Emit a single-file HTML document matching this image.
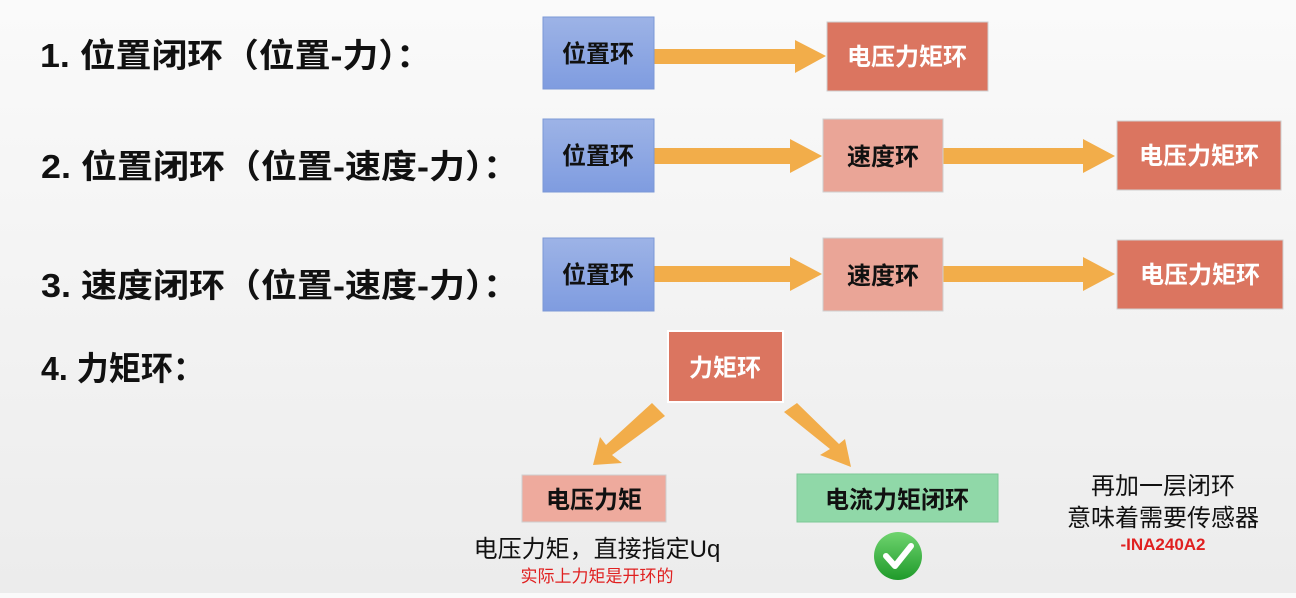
<!DOCTYPE html>
<html><head><meta charset="utf-8"><style>
html,body{margin:0;padding:0;}
body{width:1296px;height:593px;overflow:hidden;background:linear-gradient(#fafafa,#ececec);}
svg text{font-family:"Liberation Sans","Noto Sans CJK SC",sans-serif;font-weight:bold;}
</style></head><body>
<svg width="1296" height="593" viewBox="0 0 1296 593" xmlns="http://www.w3.org/2000/svg">
<defs>
<linearGradient id="bl" x1="0" y1="0" x2="0" y2="1"><stop offset="0" stop-color="#9db3e6"/><stop offset="1" stop-color="#7f9ce0"/></linearGradient>
<linearGradient id="gr" x1="0" y1="0" x2="0" y2="1"><stop offset="0" stop-color="#6fd46f"/><stop offset="1" stop-color="#1f9a2a"/></linearGradient>
</defs>
<g font-size="33" fill="#111">
<text x="40" y="67" textLength="392" lengthAdjust="spacingAndGlyphs">1. 位置闭环（位置-力）：</text>
<text x="41" y="178" textLength="478" lengthAdjust="spacingAndGlyphs">2. 位置闭环（位置-速度-力）：</text>
<text x="41" y="297" textLength="478" lengthAdjust="spacingAndGlyphs">3. 速度闭环（位置-速度-力）：</text>
<text x="41" y="380" textLength="164" lengthAdjust="spacingAndGlyphs">4. 力矩环：</text>
</g>
<g fill="#f2ad4a">
<polygon points="654,49 795,49 795,40 826,56 795,73 795,64 654,64"/>
<polygon points="654,148 790,148 790,139 822,156 790,173 790,164 654,164"/>
<polygon points="943,148 1083,148 1083,139 1115,156 1083,173 1083,164 943,164"/>
<polygon points="654,266 790,266 790,257 822,274 790,291 790,282 654,282"/>
<polygon points="943,266 1083,266 1083,257 1115,274 1083,291 1083,282 943,282"/>
<polygon points="652,403 665,416 612,455 622,463 593,465 600,437 606,445"/>
<polygon points="797,403 784,412 830,449 820,455 851,467 845,439 839,444"/>
</g>
<g stroke="#cfcfcf" stroke-width="1">
<rect x="543" y="17" width="111" height="72" fill="url(#bl)" stroke="#7b98d6"/>
<rect x="827" y="22" width="161" height="69" fill="#db7560"/>
<rect x="543" y="119" width="111" height="73" fill="url(#bl)" stroke="#7b98d6"/>
<rect x="823" y="119" width="120" height="73" fill="#eaa597"/>
<rect x="1117" y="121" width="164" height="69" fill="#db7560"/>
<rect x="543" y="238" width="111" height="73" fill="url(#bl)" stroke="#7b98d6"/>
<rect x="823" y="238" width="120" height="73" fill="#eaa597"/>
<rect x="1117" y="240" width="166" height="69" fill="#db7560"/>
<rect x="668" y="331" width="115" height="71" fill="#db7560" stroke="#fff" stroke-width="2"/>
<rect x="522" y="475" width="144" height="47" fill="#eeaa9d"/>
<rect x="797" y="474" width="201" height="48" fill="#90d8a8" stroke="#7cc896"/>
</g>
<g font-size="24" text-anchor="middle">
<text x="598" y="62" fill="#111">位置环</text>
<text x="907" y="65" fill="#fff">电压力矩环</text>
<text x="598" y="164" fill="#111">位置环</text>
<text x="883" y="165" fill="#111">速度环</text>
<text x="1199" y="164" fill="#fff">电压力矩环</text>
<text x="598" y="283" fill="#111">位置环</text>
<text x="883" y="284" fill="#111">速度环</text>
<text x="1200" y="283" fill="#fff">电压力矩环</text>
<text x="725" y="376" fill="#fff">力矩环</text>
<text x="594" y="508" fill="#111">电压力矩</text>
<text x="897" y="508" fill="#111">电流力矩闭环</text>
</g>
<g text-anchor="middle">
<text x="597" y="557" font-size="24" fill="#111" style="font-weight:normal">电压力矩，直接指定Uq</text>
<text x="597" y="582" font-size="17" fill="#e02020" style="font-weight:normal">实际上力矩是开环的</text>
<text x="1163" y="494" font-size="24" fill="#111" style="font-weight:normal">再加一层闭环</text>
<text x="1163" y="526" font-size="24" fill="#111" style="font-weight:normal">意味着需要传感器</text>
<text x="1163" y="550" font-size="17" fill="#e02020">-INA240A2</text>
</g>
<circle cx="898" cy="556" r="24" fill="url(#gr)"/>
<polyline points="886,556 895,566 911,546" fill="none" stroke="#fff" stroke-width="6" stroke-linecap="round" stroke-linejoin="round"/>
</svg>
</body></html>
